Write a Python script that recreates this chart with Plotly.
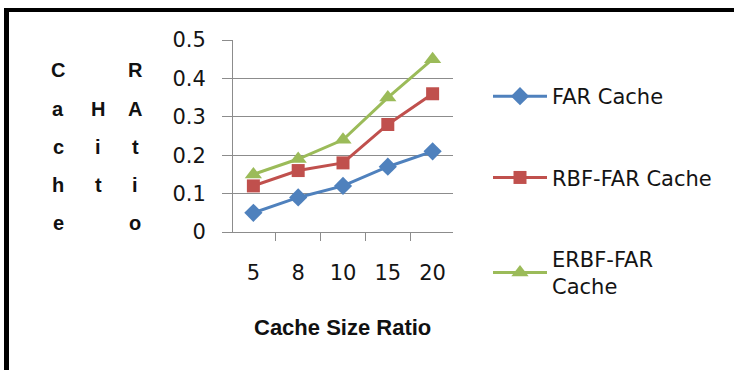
import plotly.graph_objects as go

# Cache size ratios (categories) and hit ratios for each cache scheme
cache_size_ratio = ["5", "8", "10", "15", "20"]
far_cache = [0.05, 0.09, 0.12, 0.17, 0.21]
rbf_far_cache = [0.12, 0.16, 0.18, 0.28, 0.36]
erbf_far_cache = [0.15, 0.19, 0.24, 0.35, 0.45]
series_names = ["FAR Cache", "RBF-FAR Cache", "ERBF-FAR<br>Cache"]
y_tick_values = [0, 0.1, 0.2, 0.3, 0.4, 0.5]
y_tick_labels = ["0", "0.1", "0.2", "0.3", "0.4", "0.5"]

W, H = 734, 370
TICK_FONT = dict(family="DejaVu Sans", size=21, color="#141414")
GRID = "#8c8c8c"

styles = [
    dict(color="#4F81BD", symbol="diamond", size=14),
    dict(color="#C0504D", symbol="square", size=13),
    dict(color="#9BBB59", symbol="triangle-up", size=15),
]

fig = go.Figure()
for i, (name, vals, st) in enumerate(zip(series_names,
                                         [far_cache, rbf_far_cache, erbf_far_cache],
                                         styles)):
    fig.add_trace(go.Scatter(
        x=cache_size_ratio, y=vals, name=name, mode="lines+markers",
        line=dict(color=st["color"], width=3),
        marker=dict(symbol=st["symbol"], size=st["size"], color=st["color"]),
        legendgroup=f"g{i}",
    ))

fig.update_layout(
    width=W, height=H,
    margin=dict(l=0, r=0, t=0, b=0, autoexpand=False),
    paper_bgcolor="white", plot_bgcolor="white",
    font=TICK_FONT,
    showlegend=True,
    legend=dict(
        x=488 / W, y=1 - 76 / H, xanchor="left", yanchor="top",
        font=TICK_FONT, traceorder="grouped", tracegroupgap=51,
        itemwidth=54, bgcolor="rgba(0,0,0,0)",
    ),
    xaxis=dict(
        domain=[233 / W, 453 / W], type="category", automargin=False,
        showgrid=False, showline=True, linecolor=GRID, linewidth=1,
        ticks="outside", ticklen=8, tickcolor=GRID, tickson="boundaries",
        tickfont=TICK_FONT, ticklabelstandoff=22,
        fixedrange=True,
    ),
    yaxis=dict(
        domain=[1 - 232 / H, 1 - 40 / H], range=[0, 0.5], automargin=False,
        tickvals=y_tick_values, ticktext=y_tick_labels,
        showgrid=True, gridcolor=GRID, gridwidth=1,
        zeroline=False, showline=True, linecolor=GRID, linewidth=1,
        ticks="outside", ticklen=10, tickcolor=GRID,
        tickfont=TICK_FONT, ticklabelstandoff=12,
        fixedrange=True,
    ),
)

# X-axis title
fig.add_annotation(
    x=342 / W, y=1 - 327 / H, xref="paper", yref="paper",
    text="<b>Cache Size Ratio</b>", showarrow=False,
    font=dict(family="Liberation Sans", size=22, color="#111111"),
    xanchor="center", yanchor="middle",
)

# Vertical-style y-axis title: each word written as a column of letters
title_columns = [("Cache", 58, 0), ("Hit", 98, 1), ("RAtio", 135, 0)]
row_y = [70, 109, 147, 185, 223]
for word, px, start in title_columns:
    for k, ch in enumerate(word):
        fig.add_annotation(
            x=px / W, y=1 - row_y[start + k] / H, xref="paper", yref="paper",
            text=f"<b>{ch}</b>", showarrow=False,
            font=dict(family="Liberation Sans", size=20, color="#111111"),
            xanchor="center", yanchor="middle",
        )

# Frame edges along the top and left of the figure
fig.add_shape(type="line", xref="paper", yref="paper",
              x0=4 / W, x1=1, y0=1 - 10 / H, y1=1 - 10 / H,
              line=dict(color="black", width=4))
fig.add_shape(type="line", xref="paper", yref="paper",
              x0=6.5 / W, x1=6.5 / W, y0=0, y1=1 - 8 / H,
              line=dict(color="black", width=5))

fig.write_html("out.html")
